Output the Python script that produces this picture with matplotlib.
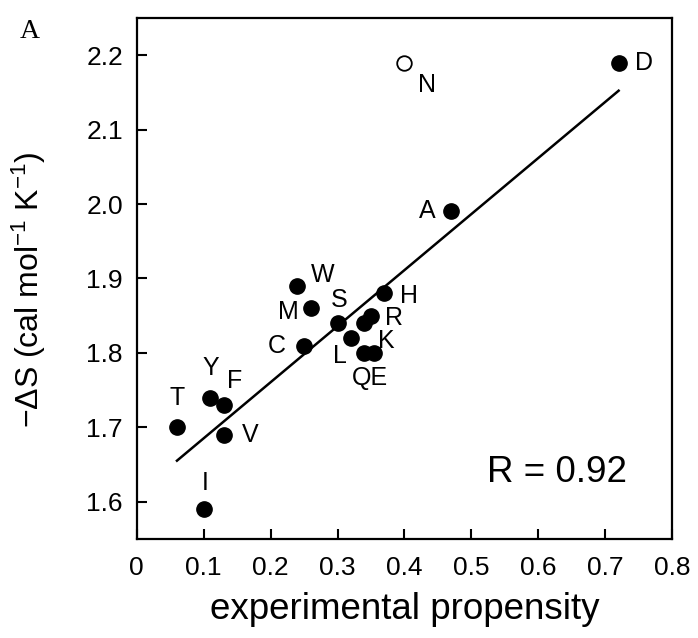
import numpy as np
import matplotlib.pyplot as plt

plt.rcParams['font.family'] = ['Liberation Sans', 'DejaVu Sans']
plt.rcParams['mathtext.fontset'] = 'custom'
plt.rcParams['mathtext.rm'] = 'Liberation Sans'
plt.rcParams['mathtext.it'] = 'Liberation Sans'

# residuos (relleno) y su posición
residuos = ['D', 'A', 'W', 'M', 'S', 'H', 'R', 'K', 'L', 'Q', 'E', 'C', 'Y', 'F', 'T', 'V', 'I']
propension = [0.72, 0.47, 0.24, 0.26, 0.30, 0.37, 0.35, 0.34, 0.32, 0.34, 0.355, 0.25, 0.11, 0.13, 0.06, 0.13, 0.10]
delta_s = [2.19, 1.99, 1.89, 1.86, 1.84, 1.88, 1.85, 1.84, 1.82, 1.80, 1.80, 1.81, 1.74, 1.73, 1.70, 1.69, 1.59]

# N queda fuera del ajuste (círculo abierto)
n_x, n_y = 0.40, 2.19

# desplazamientos de las etiquetas en puntos (dx, dy, ha)
offsets = {
    'D': (12, 0, 'left'),
    'A': (-11, 0, 'right'),
    'W': (10, 8, 'left'),
    'M': (-9, -3, 'right'),
    'S': (1, 17, 'center'),
    'H': (11, -2, 'left'),
    'R': (10, -2, 'left'),
    'K': (10, -13, 'left'),
    'L': (-8, -13, 'center'),
    'Q': (4, -18, 'center'),
    'C': (-13, 0, 'right'),
    'Y': (0, 21, 'center'),
    'F': (8, 17, 'center'),
    'T': (0, 21, 'center'),
    'V': (13, 0, 'left'),
    'I': (1, 19, 'center'),
}

fig = plt.figure(figsize=(6.98, 6.38), dpi=100)
ax = fig.add_axes([0.196, 0.155, 0.767, 0.817])

ax.plot(propension, delta_s, 'o', color='black', markersize=11, zorder=3)
ax.plot(n_x, n_y, 'o', markerfacecolor='white', markeredgecolor='black',
        markeredgewidth=1.3, markersize=10.5, zorder=3)

# recta de regresión por los puntos rellenos
m, b = np.polyfit(propension, delta_s, 1)
xr = np.array([min(propension), max(propension)])
ax.plot(xr, m * xr + b, color='black', linewidth=1.8, zorder=2)

for nombre, x, y in zip(residuos, propension, delta_s):
    if nombre not in offsets:
        continue
    dx, dy, ha = offsets[nombre]
    texto = 'QE' if nombre == 'Q' else nombre
    ax.annotate(texto, (x, y), xytext=(dx, dy), textcoords='offset points',
                ha=ha, va='center', fontsize=18)
ax.annotate('N', (n_x, n_y), xytext=(16, -16), textcoords='offset points',
            ha='center', va='center', fontsize=18)

ax.text(0.733, 1.639, 'R = 0.92', fontsize=26.5, ha='right', va='center')

ax.set_xlim(0, 0.8)
ax.set_ylim(1.55, 2.25)
ax.set_xticks(np.arange(0, 0.81, 0.1))
ax.set_xticklabels(['0', '0.1', '0.2', '0.3', '0.4', '0.5', '0.6', '0.7', '0.8'])
ax.set_yticks(np.arange(1.6, 2.21, 0.1))
ax.set_yticklabels(['1.6', '1.7', '1.8', '1.9', '2.0', '2.1', '2.2'])
ax.tick_params(direction='in', length=7, width=1.5, labelsize=19)
ax.tick_params(axis='x', pad=12)
ax.tick_params(axis='y', pad=10)
for s in ax.spines.values():
    s.set_linewidth(1.6)

ax.set_xlabel('experimental propensity', fontsize=26.5, labelpad=9)
ax.set_ylabel(r'$-\Delta$S (cal mol$^{-1}$ K$^{-1}$)', fontsize=23)
ax.yaxis.set_label_coords(-0.165, 0.478)

fig.text(0.028, 0.95, 'A', fontsize=20, family='Liberation Serif', va='center')

fig.savefig('out.png', dpi=100)
